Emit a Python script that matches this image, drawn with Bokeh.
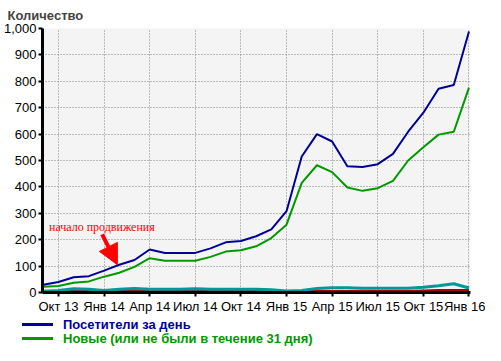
from bokeh.plotting import figure
from bokeh.layouts import column
from bokeh.models import (FixedTicker, NumeralTickFormatter, Div,
                          Label, Arrow, NormalHead, Range1d, ColumnDataSource)
from bokeh.embed import file_html
from bokeh.resources import INLINE

# ---- data (monthly, Sep 2013 .. Jan 2016) ----
months = ["2013-09", "2013-10", "2013-11", "2013-12",
          "2014-01", "2014-02", "2014-03", "2014-04", "2014-05", "2014-06",
          "2014-07", "2014-08", "2014-09", "2014-10", "2014-11", "2014-12",
          "2015-01", "2015-02", "2015-03", "2015-04", "2015-05", "2015-06",
          "2015-07", "2015-08", "2015-09", "2015-10", "2015-11", "2015-12",
          "2016-01"]
visitors = [29, 40, 58, 62, 83, 105, 123, 163, 150, 150, 150, 167, 190, 195,
            213, 239, 308, 515, 600, 572, 478, 475, 486, 525, 609, 681, 772,
            786, 989]
new_visitors = [22, 25, 37, 42, 60, 75, 97, 130, 120, 120, 120, 135, 155, 160,
                175, 206, 257, 415, 482, 456, 398, 385, 395, 423, 500, 550,
                598, 609, 776]
teal_series = [5, 8, 14, 12, 8, 12, 15, 12, 12, 12, 14, 12, 12, 12, 12, 10,
               6, 8, 15, 18, 18, 16, 16, 16, 16, 20, 26, 33, 17]
red_series = [4, 4, 4, 4, 4, 4, 4, 4, 4, 4, 4, 4, 4, 4, 4, 4, 4, 4, 4, 4, 4,
              4, 4, 4, 4, 6, 8, 8, 8]
gray_series = [1, 2, 3, 2, 1, 3, 2, 1, 2, 1, 2, 1, 1, 2, 1, 2, 1, 3, 2, 2, 3,
               3, 2, 3, 2, 1, 3, 2, 2]

x_tick_months = ["2013-10", "2014-01", "2014-04", "2014-07", "2014-10",
                 "2015-01", "2015-04", "2015-07", "2015-10", "2016-01"]
x_tick_labels = ["Окт 13", "Янв 14", "Апр 14", "Июл 14", "Окт 14",
                 "Янв 15", "Апр 15", "Июл 15", "Окт 15", "Янв 16"]
y_ticks = [0, 100, 200, 300, 400, 500, 600, 700, 800, 900, 1000]

series_names = ["Посетители за день", "Новые (или не были в течение 31 дня)"]
series_colors = ["#000099", "#009900"]
title_text = "Количество"
note_text = "начало продвижения"
note_pos = (0.375, 250)          # text anchor (month offset, value)
arrow_from = (3.875, 220)
arrow_to = (4.875, 105)

# ---- build ----
idx = list(range(len(months)))
src = ColumnDataSource(dict(x=idx, v=visitors, n=new_visitors, t=teal_series,
                            r=red_series, g=gray_series))

FONT = "Liberation Sans"

p = figure(width=485, height=316, output_backend="svg", toolbar_location=None,
           x_range=Range1d(-0.05, len(months) - 1 + 0.1), y_range=Range1d(0, 1000),
           min_border_left=0, min_border_right=15, min_border_top=27,
           min_border_bottom=21, background_fill_color="#f4f4f4",
           border_fill_color="white", outline_line_color=None,
           title=title_text)

p.title.text_font = FONT
p.title.text_font_size = "13px"
p.title.text_font_style = "bold"
p.title.align = "left"
p.title.offset = -35
p.title.standoff = 11

gray_r = p.line("x", "g", source=src, line_color="#888888", line_width=3)
red_r = p.line("x", "r", source=src, line_color="#aa0000", line_width=3)
teal_r = p.line("x", "t", source=src, line_color="#009999", line_width=3)
green_r = p.line("x", "n", source=src, line_color=series_colors[1], line_width=2)
blue_r = p.line("x", "v", source=src, line_color=series_colors[0], line_width=2)

# axes
tick_pos = [months.index(m) for m in x_tick_months]
p.xaxis.ticker = FixedTicker(ticks=tick_pos)
p.xaxis.major_label_overrides = {t: l for t, l in zip(tick_pos, x_tick_labels)}
p.yaxis.ticker = FixedTicker(ticks=y_ticks)
p.yaxis.formatter = NumeralTickFormatter(format="0,0")
for ax in (p.xaxis, p.yaxis):
    ax.axis_line_width = 3
    ax.axis_line_color = "black"
    ax.major_tick_in = 0
    ax.major_tick_out = 4
    ax.major_tick_line_width = 2
    ax.minor_tick_line_color = None
    ax.major_label_text_font = FONT
    ax.major_label_text_font_size = "13px"
    ax.major_label_text_color = "black"
p.xaxis.major_label_standoff = 2
p.yaxis.major_label_standoff = 2

# grid
p.xgrid.ticker = FixedTicker(ticks=tick_pos)
p.ygrid.ticker = FixedTicker(ticks=y_ticks)
for g in (p.xgrid, p.ygrid):
    g.grid_line_color = "#808080"
    g.grid_line_dash = "1 2"
    g.grid_line_width = 1

# annotation
p.add_layout(Label(x=note_pos[0], y=note_pos[1], text=note_text,
                   text_color="#ff0000", text_font="Liberation Serif",
                   text_font_size="12px", text_baseline="middle"))
p.add_layout(Arrow(x_start=arrow_from[0], y_start=arrow_from[1],
                   x_end=arrow_to[0], y_end=arrow_to[1],
                   line_color="#ff0000", line_width=4,
                   end=NormalHead(size=20, fill_color="#ff0000",
                                  line_color="#ff0000")))

# legend strip below the chart
rows = []
for name, col in zip(series_names, series_colors):
    rows.append(
        '<div style="height:14px;line-height:14px;white-space:nowrap;">'
        '<span style="display:inline-block;width:31px;height:0;'
        'border-top:3px solid %s;vertical-align:middle;margin-left:22px;'
        'margin-right:10px;"></span>'
        '<span style="color:%s;vertical-align:middle;">%s</span></div>'
        % (col, col, name))
legend_html = ('<div style="font-family:\'Liberation Sans\';font-size:13px;'
               'font-weight:bold;margin:0;padding:1px 0 0 0;">'
               + "".join(rows) + '</div>')
leg = Div(text=legend_html, width=485, height=29, margin=0)

open("out.html", "w").write(file_html(column(p, leg, spacing=0), INLINE))
